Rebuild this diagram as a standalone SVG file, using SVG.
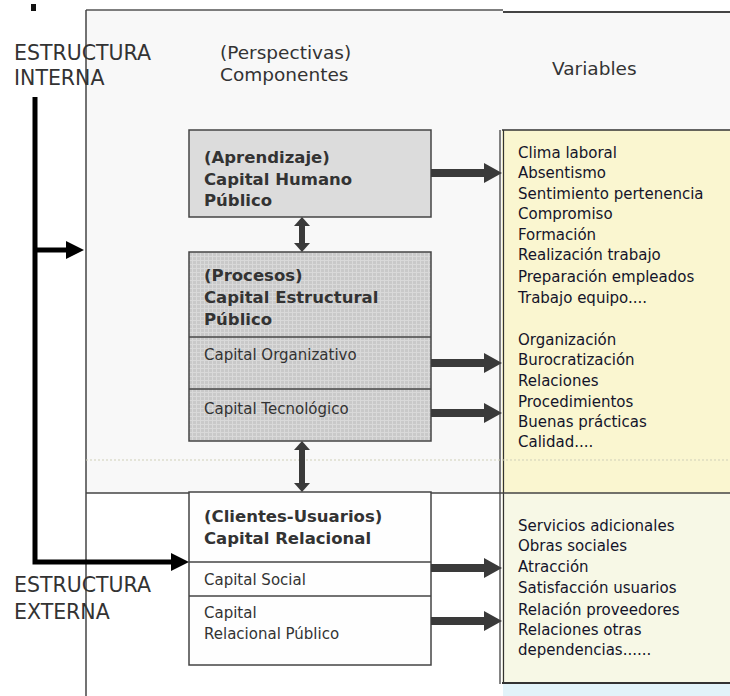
<svg xmlns="http://www.w3.org/2000/svg" width="730" height="696" viewBox="0 0 730 696">
<style>
  text { font-family: "DejaVu Sans", Verdana, sans-serif; }
  .hdr { font-size: 18.5px; fill: #333; }
  .est { font-size: 20.5px; fill: #333; }
  .ttl { font-size: 16.5px; font-weight: bold; fill: #333; }
  .reg { font-size: 15px; fill: #333; }
  .var { font-size: 15px; fill: #14142a; }
  .box { stroke: #444; stroke-width: 1.5; }
  .div { stroke: #444; stroke-width: 1.5; }
  .fat { stroke: #3a3a3a; stroke-width: 8; fill: none; }
  .dbl { stroke: #3a3a3a; stroke-width: 6; fill: none; }
  .blk { stroke: #000; stroke-width: 5; fill: none; }
</style>
<defs>
  <pattern id="grid" width="4" height="4" patternUnits="userSpaceOnUse">
    <rect width="4" height="4" fill="#c9c9c9"/>
    <path d="M0,0.5 H4 M0.5,0 V4" stroke="#d9d9d9" stroke-width="1"/>
  </pattern>
  <marker id="hd" viewBox="0 0 18 20" markerWidth="18" markerHeight="20" refX="0" refY="10" markerUnits="userSpaceOnUse" orient="auto">
    <path d="M0,0 L18,10 L0,20 Z" fill="#3a3a3a"/>
  </marker>
  <marker id="hs" viewBox="0 0 9 16" markerWidth="9" markerHeight="16" refX="0" refY="8" markerUnits="userSpaceOnUse" orient="auto-start-reverse">
    <path d="M0,0 L9,8 L0,16 Z" fill="#3a3a3a"/>
  </marker>
  <marker id="hb" viewBox="0 0 18 18" markerWidth="18" markerHeight="18" refX="0" refY="9" markerUnits="userSpaceOnUse" orient="auto">
    <path d="M0,0 L18,9 L0,18 Z" fill="#000"/>
  </marker>
</defs>

<!-- frame / background -->
<g id="frame">
  <rect x="86" y="10" width="417" height="483" fill="#f8f8f8"/>
  <rect x="503" y="12" width="227" height="481" fill="#f8f8f8"/>
  <rect x="86" y="493" width="417" height="203" fill="#ffffff"/>
  <line x1="86" y1="10" x2="503" y2="10" stroke="#555" stroke-width="1.5"/>
  <line x1="503" y1="12" x2="730" y2="12" stroke="#444" stroke-width="2"/>
  <line x1="86" y1="10" x2="86" y2="696" stroke="#444" stroke-width="1.5"/>
  <rect x="31" y="4" width="5" height="7" fill="#111"/>
</g>

<!-- variables panel -->
<g id="variables">
  <rect x="502" y="130" width="230" height="363" fill="#faf6d0"/>
  <rect x="502" y="493" width="230" height="190" fill="#f7f8e6"/>
  <rect x="503" y="684" width="227" height="12" fill="#e2f3f9"/>
  <line x1="502" y1="130" x2="730" y2="130" stroke="#333" stroke-width="1.5"/>
  <line x1="502" y1="683" x2="730" y2="683" stroke="#333" stroke-width="2"/>
  <line x1="500" y1="130" x2="500" y2="684" stroke="#333" stroke-width="1.2"/>
  <line x1="503.5" y1="130" x2="503.5" y2="684" stroke="#333" stroke-width="1.2"/>
  <text class="var"><tspan x="518" y="158">Clima laboral</tspan><tspan x="518" y="178">Absentismo</tspan><tspan x="518" y="199">Sentimiento pertenencia</tspan><tspan x="518" y="219">Compromiso</tspan><tspan x="518" y="240">Formación</tspan><tspan x="518" y="260">Realización trabajo</tspan><tspan x="518" y="282">Preparación empleados</tspan><tspan x="518" y="303">Trabajo equipo....</tspan></text>
  <text class="var"><tspan x="518" y="345">Organización</tspan><tspan x="518" y="365">Burocratización</tspan><tspan x="518" y="386">Relaciones</tspan><tspan x="518" y="407">Procedimientos</tspan><tspan x="518" y="427">Buenas prácticas</tspan><tspan x="518" y="447">Calidad....</tspan></text>
  <text class="var"><tspan x="518" y="531">Servicios adicionales</tspan><tspan x="518" y="551">Obras sociales</tspan><tspan x="518" y="572">Atracción</tspan><tspan x="518" y="593">Satisfacción usuarios</tspan><tspan x="518" y="615">Relación proveedores</tspan><tspan x="518" y="635">Relaciones otras</tspan><tspan x="518" y="655">dependencias......</tspan></text>
</g>

<g id="dividers">
  <line x1="86" y1="460" x2="730" y2="460" stroke="#cfcfb8" stroke-width="1" stroke-dasharray="2 2"/>
  <line x1="86" y1="493" x2="730" y2="493" stroke="#444" stroke-width="1.5"/>
</g>

<!-- headers -->
<g id="headers">
  <text class="est"><tspan x="14" y="60">ESTRUCTURA</tspan><tspan x="14" y="85">INTERNA</tspan></text>
  <text class="est"><tspan x="14" y="592">ESTRUCTURA</tspan><tspan x="14" y="619">EXTERNA</tspan></text>
  <text class="hdr"><tspan x="220" y="59">(Perspectivas)</tspan><tspan x="220" y="81">Componentes</tspan></text>
  <text class="hdr" x="552" y="75">Variables</text>
</g>

<!-- nodes -->
<g id="humano">
  <rect class="box" x="189" y="130" width="242" height="87" fill="#dcdcdc"/>
  <text class="ttl"><tspan x="204" y="163">(Aprendizaje)</tspan><tspan x="204" y="185">Capital Humano</tspan><tspan x="204" y="206">Público</tspan></text>
</g>

<g id="estructural">
  <rect class="box" x="189" y="252" width="242" height="189" fill="url(#grid)"/>
  <line class="div" x1="189" y1="337" x2="431" y2="337"/>
  <line class="div" x1="189" y1="389" x2="431" y2="389"/>
  <text class="ttl"><tspan x="204" y="281">(Procesos)</tspan><tspan x="204" y="303">Capital Estructural</tspan><tspan x="204" y="325">Público</tspan></text>
  <text class="reg" x="204" y="360">Capital Organizativo</text>
  <text class="reg" x="204" y="414">Capital Tecnológico</text>
</g>

<g id="relacional">
  <rect class="box" x="189" y="492" width="242" height="173" fill="#fefefe"/>
  <line class="div" x1="189" y1="562" x2="431" y2="562"/>
  <line class="div" x1="189" y1="596" x2="431" y2="596"/>
  <text class="ttl"><tspan x="204" y="522">(Clientes-Usuarios)</tspan><tspan x="204" y="544">Capital Relacional</tspan></text>
  <text class="reg" x="204" y="585">Capital Social</text>
  <text class="reg"><tspan x="204" y="618">Capital</tspan><tspan x="204" y="639">Relacional Público</tspan></text>
</g>

<!-- connectors -->
<g id="connectors">
  <line class="fat" x1="431" y1="173" x2="484" y2="173" marker-end="url(#hd)"/>
  <line class="fat" x1="431" y1="363" x2="484" y2="363" marker-end="url(#hd)"/>
  <line class="fat" x1="431" y1="413" x2="484" y2="413" marker-end="url(#hd)"/>
  <line class="fat" x1="431" y1="568" x2="484" y2="568" marker-end="url(#hd)"/>
  <line class="fat" x1="431" y1="621" x2="484" y2="621" marker-end="url(#hd)"/>
  <line class="dbl" x1="302" y1="226" x2="302" y2="243" marker-start="url(#hs)" marker-end="url(#hs)"/>
  <line class="dbl" x1="302" y1="450" x2="302" y2="483" marker-start="url(#hs)" marker-end="url(#hs)"/>
  <path class="blk" d="M35,97 V562 H171" marker-end="url(#hb)"/>
  <line class="blk" x1="35" y1="250" x2="66" y2="250" marker-end="url(#hb)"/>
</g>
</svg>
